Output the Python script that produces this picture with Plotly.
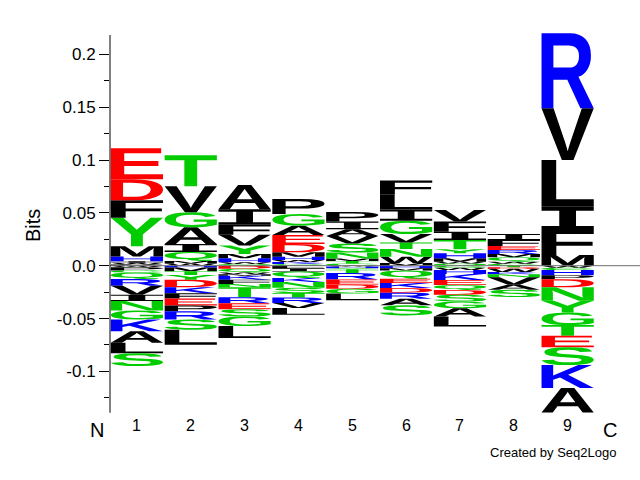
import struct, glob
import plotly.graph_objects as go

# ---------------- data ----------------
positions = [1, 2, 3, 4, 5, 6, 7, 8, 9]
position_labels = ["1", "2", "3", "4", "5", "6", "7", "8", "9"]
y_tick_values = [-0.1, -0.05, 0.0, 0.05, 0.1, 0.15, 0.2]
y_tick_labels = ["-0.1", "-0.05", "0.0", "0.05", "0.1", "0.15", "0.2"]

# positive stacks, listed from the zero line upwards
up_letters = [
    ["P", "W", "I", "H", "M", "Y", "F", "D", "E"],
    ["W", "M", "Q", "I", "A", "G", "V", "T"],
    ["Q", "W", "H", "M", "Y", "V", "F", "I", "A"],
    ["C", "K", "W", "H", "M", "D", "E", "A", "G", "P"],
    ["C", "T", "M", "N", "S", "V", "A", "I", "P"],
    ["M", "W", "N", "T", "V", "G", "I", "L", "F"],
    ["Q", "W", "M", "H", "Y", "T", "I", "F", "V"],
    ["C", "W", "Q", "M", "R", "E", "F", "I"],
    ["M", "F", "I", "L", "V", "R"],
]
up_bits = [
    [0.0012, 0.0015, 0.0015, 0.0044, 0.0098, 0.027, 0.0165, 0.0199, 0.0293],
    [0.002, 0.0025, 0.0085, 0.0075, 0.0158, 0.0142, 0.0246, 0.0295],
    [0.0015, 0.0017, 0.0038, 0.0041, 0.008, 0.0101, 0.0095, 0.0148, 0.0228],
    [0.0017, 0.0017, 0.002, 0.0031, 0.0042, 0.0079, 0.0085, 0.0088, 0.0111, 0.0142],
    [0.002, 0.0025, 0.0022, 0.0057, 0.0085, 0.0072, 0.0063, 0.0075, 0.0088],
    [0.0025, 0.006, 0.0073, 0.0062, 0.008, 0.0126, 0.0105, 0.0145, 0.013],
    [0.002, 0.0018, 0.0032, 0.0047, 0.0038, 0.0088, 0.0079, 0.0095, 0.011],
    [0.0018, 0.002, 0.0042, 0.0031, 0.0038, 0.0038, 0.0057, 0.0057],
    [0.0101, 0.0237, 0.022, 0.0442, 0.0489, 0.071],
]
# negative stacks, listed from the zero line downwards
down_letters = [
    ["W", "P", "C", "Q", "R", "V", "I", "N", "G", "K", "A", "L", "S"],
    ["H", "M", "T", "Y", "D", "K", "F", "E", "P", "R", "S", "L"],
    ["D", "Q", "W", "M", "K", "F", "N", "T", "R", "E", "S", "G", "L"],
    ["F", "I", "Q", "K", "N", "S", "T", "R", "V", "L"],
    ["W", "H", "Y", "T", "R", "E", "D", "G", "L"],
    ["H", "M", "Q", "E", "K", "D", "R", "A", "S"],
    ["C", "W", "H", "K", "E", "Q", "D", "S", "G", "A", "L"],
    ["T", "D", "W", "K", "N", "V", "A", "S"],
    ["W", "C", "H", "P", "D", "N", "Y", "G", "T", "E", "S", "K", "A"],
]
down_bits = [
    [0.0015, 0.003, 0.002, 0.0062, 0.0063, 0.0085, 0.006, 0.0089, 0.0085, 0.011, 0.011, 0.010, 0.012],
    [0.0017, 0.0035, 0.0035, 0.0047, 0.007, 0.0057, 0.005, 0.0065, 0.0055, 0.0079, 0.0095, 0.0142],
    [0.003, 0.0035, 0.0015, 0.0014, 0.0038, 0.0041, 0.003, 0.0095, 0.0057, 0.0057, 0.0068, 0.009, 0.0115],
    [0.0025, 0.003, 0.0062, 0.0038, 0.0054, 0.005, 0.0042, 0.0053, 0.0047, 0.0063],
    [0.0008, 0.0015, 0.0015, 0.003, 0.0063, 0.0047, 0.0041, 0.0044, 0.0063],
    [0.0025, 0.002, 0.0079, 0.004, 0.0047, 0.0044, 0.0057, 0.0063, 0.0095],
    [0.002, 0.002, 0.0038, 0.0057, 0.0047, 0.0047, 0.0047, 0.0063, 0.0063, 0.0079, 0.0095],
    [0.0015, 0.0015, 0.003, 0.002, 0.003, 0.007, 0.0047, 0.007],
    [0.002, 0.002, 0.005, 0.0038, 0.0077, 0.0127, 0.011, 0.012, 0.010, 0.011, 0.0168, 0.0218, 0.023],
]

# ---------------- style ----------------
RED, BLUE, GREEN, BLACK = "#ff0000", "#0000ff", "#00cc00", "#000000"
COLORS = {}
for c in "DE":
    COLORS[c] = RED
for c in "HKR":
    COLORS[c] = BLUE
for c in "GSTYCNQ":
    COLORS[c] = GREEN
for c in "AVLIPWFM":
    COLORS[c] = BLACK
LETTER_WIDTH = 0.97

W, H = 640, 480
ML, MR, MT, MB = 110, 0, 30, 60
PLOT_W = W - ML - MR
PLOT_H = H - MT - MB
ZERO_PX = 265.7
PX_PER_BIT = 1057.0
Y_TOP = (ZERO_PX - MT) / PX_PER_BIT
Y_BOT = -((H - MB) - ZERO_PX) / PX_PER_BIT
COL_PX = 53.84
X_LO = 0.5
X_HI = 0.5 + PLOT_W / COL_PX


def paper_y(px):
    return ((H - MB) - px) / PLOT_H


def paper_x(px):
    return (px - ML) / PLOT_W


def bits_at_px(px):
    return (ZERO_PX - px) / PX_PER_BIT


# ---------------- minimal TrueType outline reader ----------------
class TTF:
    def __init__(self, path):
        d = open(path, "rb").read()
        self.d = d
        n = struct.unpack(">H", d[4:6])[0]
        self.t = {}
        for i in range(n):
            tag, _, off, ln = struct.unpack(">4sIII", d[12 + 16 * i:28 + 16 * i])
            self.t[tag.decode("latin1")] = off
        head = self.t["head"]
        locfmt = struct.unpack(">h", d[head + 50:head + 52])[0]
        maxp = self.t["maxp"]
        ng = struct.unpack(">H", d[maxp + 4:maxp + 6])[0]
        lo = self.t["loca"]
        if locfmt == 0:
            self.loca = [2 * v for v in struct.unpack(">%dH" % (ng + 1), d[lo:lo + 2 * (ng + 1)])]
        else:
            self.loca = list(struct.unpack(">%dI" % (ng + 1), d[lo:lo + 4 * (ng + 1)]))
        self.glyf = self.t["glyf"]
        self._init_cmap()

    def _init_cmap(self):
        d = self.d
        base = self.t["cmap"]
        n = struct.unpack(">H", d[base + 2:base + 4])[0]
        sub = None
        for i in range(n):
            pid, eid, off = struct.unpack(">HHI", d[base + 4 + 8 * i:base + 12 + 8 * i])
            s = base + off
            fmt = struct.unpack(">H", d[s:s + 2])[0]
            if fmt == 4 and pid in (0, 3):
                sub = s
                break
        segx2 = struct.unpack(">H", d[sub + 6:sub + 8])[0]
        seg = segx2 // 2
        self.ends = struct.unpack(">%dH" % seg, d[sub + 14:sub + 14 + segx2])
        self.starts = struct.unpack(">%dH" % seg, d[sub + 16 + segx2:sub + 16 + 2 * segx2])
        self.deltas = struct.unpack(">%dh" % seg, d[sub + 16 + 2 * segx2:sub + 16 + 3 * segx2])
        self.rpos = sub + 16 + 3 * segx2
        self.roffs = struct.unpack(">%dH" % seg, d[self.rpos:self.rpos + segx2])

    def gid(self, c):
        for i in range(len(self.ends)):
            if self.starts[i] <= c <= self.ends[i]:
                if self.roffs[i] == 0:
                    return (c + self.deltas[i]) & 0xFFFF
                a = self.rpos + 2 * i + self.roffs[i] + 2 * (c - self.starts[i])
                g = struct.unpack(">H", self.d[a:a + 2])[0]
                return (g + self.deltas[i]) & 0xFFFF if g else 0
        return 0

    def outline(self, ch):
        d = self.d
        g = self.gid(ord(ch))
        if self.loca[g + 1] == self.loca[g]:
            return None
        p = self.glyf + self.loca[g]
        nc, x0, y0, x1, y1 = struct.unpack(">hhhhh", d[p:p + 10])
        if nc <= 0:
            return None
        p += 10
        ends = struct.unpack(">%dH" % nc, d[p:p + 2 * nc])
        p += 2 * nc
        il = struct.unpack(">H", d[p:p + 2])[0]
        p += 2 + il
        npts = ends[-1] + 1
        flags = []
        while len(flags) < npts:
            f = d[p]
            p += 1
            flags.append(f)
            if f & 8:
                r = d[p]
                p += 1
                flags.extend([f] * r)
        flags = flags[:npts]
        xs, v = [], 0
        for f in flags:
            if f & 2:
                dv = d[p]; p += 1
                v += dv if f & 16 else -dv
            elif not f & 16:
                v += struct.unpack(">h", d[p:p + 2])[0]; p += 2
            xs.append(v)
        ys, v = [], 0
        for f in flags:
            if f & 4:
                dv = d[p]; p += 1
                v += dv if f & 32 else -dv
            elif not f & 32:
                v += struct.unpack(">h", d[p:p + 2])[0]; p += 2
            ys.append(v)
        cs, s = [], 0
        for e in ends:
            cs.append([(xs[i], ys[i], bool(flags[i] & 1)) for i in range(s, e + 1)])
            s = e + 1
        bx0, by0 = min(xs), min(ys)
        bx1, by1 = max(xs), max(ys)
        return cs, (bx0, by0, bx1, by1)


def load_font(names):
    for nm in names:
        hits = glob.glob("/usr/share/fonts/**/" + nm, recursive=True) + \
            glob.glob("/usr/local/share/fonts/**/" + nm, recursive=True)
        for h in hits:
            try:
                return TTF(h)
            except Exception:
                pass
    return None


font_main = load_font(["LiberationSans-Bold.ttf", "DejaVuSans-Bold.ttf"])
font_i = load_font(["LiberationMono-Bold.ttf", "DejaVuSansMono-Bold.ttf"]) or font_main


def glyph_path(ch, xa, xb, ya, yb):
    f = font_i if ch == "I" else font_main
    res = None
    if f is not None:
        try:
            res = f.outline(ch)
        except Exception:
            res = None
    if res is None:
        return "M%.5f,%.5f L%.5f,%.5f L%.5f,%.5f L%.5f,%.5f Z" % (xa, ya, xb, ya, xb, yb, xa, yb)
    cs, (bx0, by0, bx1, by1) = res
    sx = (xb - xa) / (bx1 - bx0)
    sy = (yb - ya) / (by1 - by0)

    def T(x, y):
        return "%.5f,%.5f" % (xa + (x - bx0) * sx, ya + (y - by0) * sy)

    out = []
    for pts in cs:
        if not pts:
            continue
        st = next((i for i, q in enumerate(pts) if q[2]), None)
        if st is None:
            mx = (pts[0][0] + pts[1][0]) / 2.0
            my = (pts[0][1] + pts[1][1]) / 2.0
            pts = [(mx, my, True)] + pts[1:] + [pts[0]]
            st = 0
        seq = pts[st:] + pts[:st]
        s = "M" + T(seq[0][0], seq[0][1])
        prev = None
        for (x, y, on) in seq[1:] + [seq[0]]:
            if on:
                if prev is not None:
                    s += " Q" + T(*prev) + " " + T(x, y)
                    prev = None
                else:
                    s += " L" + T(x, y)
            else:
                if prev is not None:
                    mx, my = (prev[0] + x) / 2.0, (prev[1] + y) / 2.0
                    s += " Q" + T(*prev) + " " + T(mx, my)
                prev = (x, y)
        s += " Z"
        out.append(s)
    return " ".join(out)


# ---------------- figure ----------------
fig = go.Figure()
# invisible trace to establish axes
fig.add_trace(go.Scatter(x=[X_LO, X_HI], y=[Y_BOT, Y_TOP], mode="markers",
                         marker=dict(opacity=0), hoverinfo="skip", showlegend=False))

shapes = []
for pos, lets, vals in zip(positions, up_letters, up_bits):
    base = 0.0
    for ch, v in zip(lets, vals):
        shapes.append(dict(type="path", xref="x", yref="y",
                           path=glyph_path(ch, pos - LETTER_WIDTH / 2, pos + LETTER_WIDTH / 2, base, base + v),
                           fillcolor=COLORS[ch], line=dict(width=0), layer="above"))
        base += v
for pos, lets, vals in zip(positions, down_letters, down_bits):
    base = 0.0
    for ch, v in zip(lets, vals):
        shapes.append(dict(type="path", xref="x", yref="y",
                           path=glyph_path(ch, pos - LETTER_WIDTH / 2, pos + LETTER_WIDTH / 2, base - v, base),
                           fillcolor=COLORS[ch], line=dict(width=0), layer="above"))
        base -= v

# zero line
shapes.append(dict(type="line", xref="paper", yref="y", x0=0, x1=1, y0=0, y1=0,
                   line=dict(color="#6e6e6e", width=1), layer="above"))
# y spine
shapes.append(dict(type="line", xref="paper", yref="y", x0=0, x1=0,
                   y0=bits_at_px(412.7), y1=bits_at_px(35),
                   line=dict(color="black", width=1), layer="above"))

annotations = []
for pos, lab in zip(positions, position_labels):
    annotations.append(dict(x=pos, y=paper_y(425), xref="x", yref="paper", text=lab,
                            showarrow=False, font=dict(size=16, color="black"),
                            xanchor="center", yanchor="middle"))
annotations.append(dict(x=paper_x(97), y=paper_y(430), xref="paper", yref="paper", text="N",
                        showarrow=False, font=dict(size=20, color="black"), xanchor="center", yanchor="middle"))
annotations.append(dict(x=paper_x(610), y=paper_y(430), xref="paper", yref="paper", text="C",
                        showarrow=False, font=dict(size=20, color="black"), xanchor="center", yanchor="middle"))
annotations.append(dict(x=paper_x(553), y=paper_y(452), xref="paper", yref="paper",
                        text="Created by Seq2Logo", showarrow=False,
                        font=dict(size=13, color="black"), xanchor="center", yanchor="middle"))
annotations.append(dict(x=paper_x(33), y=paper_y(226), xref="paper", yref="paper",
                        text="Bits", textangle=-90, showarrow=False,
                        font=dict(size=20, color="black"), xanchor="center", yanchor="middle"))

fig.update_layout(
    width=W, height=H,
    margin=dict(l=ML, r=MR, t=MT, b=MB, pad=0),
    paper_bgcolor="white", plot_bgcolor="white",
    font=dict(family="Liberation Sans, Arial, sans-serif", color="black"),
    showlegend=False,
    shapes=shapes,
    annotations=annotations,
    xaxis=dict(range=[X_LO, X_HI], visible=False, fixedrange=True),
    yaxis=dict(range=[Y_BOT, Y_TOP], showgrid=False, zeroline=False, showline=False,
               tickmode="array", tickvals=y_tick_values, ticktext=y_tick_labels,
               ticks="outside", ticklen=10, tickwidth=1, tickcolor="black",
               tickfont=dict(size=17, color="black"),
               minor=dict(tickmode="linear", tick0=0, dtick=0.025, ticks="outside",
                          ticklen=5, tickwidth=1, tickcolor="black"),
               fixedrange=True),
)

fig.write_html("out.html")
